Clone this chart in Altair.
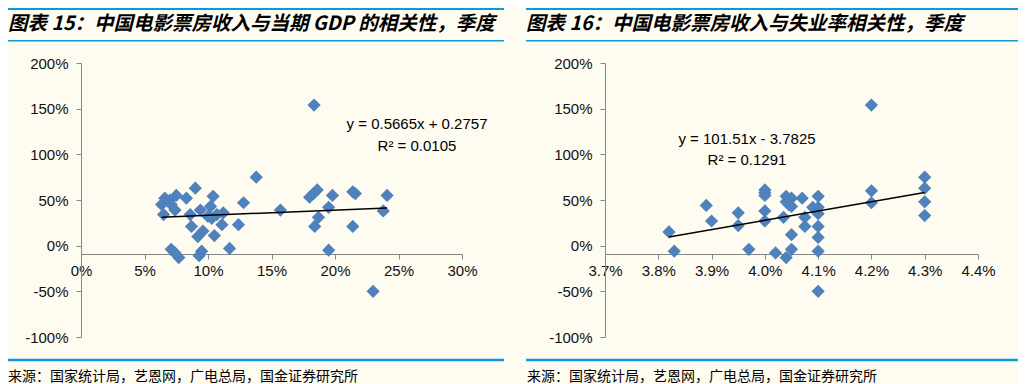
import altair as alt
import pandas as pd

# ---- data (percent) ----
gdp_growth = [9.0, 6.6, 7.5, 8.3, 6.35, 7.1, 7.4, 6.5, 8.6, 8.7, 9.4, 10.4, 10.2, 10.7,
              11.2, 11.1, 12.8, 12.4, 9.2, 9.6, 10.5, 11.7, 7.1, 7.7, 9.5, 9.3, 7.4, 7.0,
              10.0, 10.3, 18.35, 13.8, 15.7, 18.0, 18.6, 18.3, 19.8, 19.5, 21.4, 21.6,
              24.1, 23.8, 21.4, 18.7, 18.4, 19.5, 23.0]
box_gdp = [63, 52, 55, 52, 45, 45, 39, 34, 34, 21, 39, 54, 43, 34,
           36, 23, 47, 23, 10, 16, 11, -3, -4, -13, -6, -11, -8, 50,
           32, 30, 154, 75, 39, 53, 61, 57, 55, 42, 59, 57,
           55, 38, 21, 31, 21, -5, -50]

unemp_rate = [4.20, 4.30, 4.30, 4.30, 4.30, 4.20, 4.20, 3.82, 3.83, 3.89, 3.90, 3.95,
              3.95, 3.97, 4.00, 4.00, 4.00, 4.00, 4.00, 4.02, 4.04, 4.05, 4.05, 4.035,
              4.04, 4.05, 4.04, 4.05, 4.07, 4.075, 4.075, 4.09, 4.10, 4.10, 4.10, 4.10,
              4.10, 4.10, 4.10, 4.045]
box_unemp = [154, 75, 63, 48, 33, 60, 47, 15, -6, 44, 27, 36,
             22, -4, 61, 55, 58, 38, 27, -8, -13, -4, 12, 31,
             54, 52, 48, 43, 52, 31, 21, 42, 54, 42, 35, 21,
             9, -6, -50, 45]

gdp_ticks = [0, 0.05, 0.10, 0.15, 0.20, 0.25, 0.30]
unemp_ticks = [0.037, 0.038, 0.039, 0.040, 0.041, 0.042, 0.043, 0.044]
y_ticks = [-1.0, -0.5, 0.0, 0.5, 1.0, 1.5, 2.0]

eq_left = ["y = 0.5665x + 0.2757", "R² = 0.0105"]
eq_right = ["y = 101.51x - 3.7825", "R² = 0.1291"]
slope_l, icpt_l = 0.5665, 0.2757
slope_r, icpt_r = 101.51, -3.7825

title_left = "图表 15：中国电影票房收入与当期 GDP 的相关性，季度"
title_right = "图表 16：中国电影票房收入与失业率相关性，季度"
source = "来源：国家统计局，艺恩网，广电总局，国金证券研究所"

# ---- styles ----
BG = "#FEFBF1"
PT = "#4F81BD"
LINEBLUE = "#0A9ADB"
AX = "#868686"
FONT = "Liberation Sans"
CJK = "Noto Sans CJK SC"

dfL = pd.DataFrame({"x": [v / 100 for v in gdp_growth], "y": [v / 100 for v in box_gdp]})
dfR = pd.DataFrame({"x": [v / 100 for v in unemp_rate], "y": [v / 100 for v in box_unemp]})
xl = [dfL.x.min(), dfL.x.max()]
trL = pd.DataFrame({"x": xl, "y": [slope_l * v + icpt_l for v in xl]})
xr = [dfR.x.min(), dfR.x.max()]
trR = pd.DataFrame({"x": xr, "y": [slope_r * v + icpt_r for v in xr]})

pct_y = "(datum.value < 0 ? '-' : '') + format(abs(datum.value) * 100, '.0f') + '%'"


def y_enc(offset):
    return alt.Y("y:Q", scale=alt.Scale(domain=[-1, 2], range=[329, 55], nice=False, zero=False),
                 axis=alt.Axis(values=y_ticks, labelExpr=pct_y, orient="left", offset=offset,
                               grid=False, domainColor=AX, tickColor=AX, tickSize=5,
                               labelFont=FONT, labelFontSize=15, labelColor="#111111",
                               labelPadding=8, title=None, labelOverlap=False, labelFlush=False))


def x_enc(domain, rng, ticks, expr):
    return alt.X("x:Q", scale=alt.Scale(domain=domain, range=rng, nice=False, zero=False),
                 axis=alt.Axis(values=ticks, labelExpr=expr, orient="bottom", offset=-130,
                               grid=False, domainColor=AX, tickColor=AX, tickSize=5,
                               labelFont=FONT, labelFontSize=15, labelColor="#111111",
                               labelPadding=4, title=None, labelOverlap=False, labelFlush=False))


xL = x_enc([0, 0.30], [73, 454], gdp_ticks, "format(datum.value * 100, '.0f') + '%'")
yL = y_enc(-73)
xR = x_enc([0.037, 0.044], [597, 970], unemp_ticks, "format(datum.value * 100, '.1f') + '%'")
yR = y_enc(-597)

pts = dict(shape="diamond", filled=True, size=175, color=PT, opacity=1, strokeWidth=0)

left = alt.layer(
    alt.Chart(dfL).mark_point(**pts).encode(x=xL, y=yL),
    alt.Chart(trL).mark_line(color="black", strokeWidth=1.5).encode(x=xL, y=yL),
)
right = alt.layer(
    alt.Chart(dfR).mark_point(**pts).encode(x=xR, y=yR),
    alt.Chart(trR).mark_line(color="black", strokeWidth=1.5).encode(x=xR, y=yR),
)

one = pd.DataFrame({"a": [0]})


def rule(x1, x2, y, w):
    return alt.Chart(one).mark_rule(color=LINEBLUE, strokeWidth=w).encode(
        x=alt.value(x1), x2=alt.value(x2), y=alt.value(y))


def text(t, x, y, **kw):
    return alt.Chart(one).mark_text(text=t, **kw).encode(x=alt.value(x), y=alt.value(y))


title_kw = dict(font=CJK, fontSize=19.5, fontWeight="bold", fontStyle="italic",
                align="left", baseline="middle", color="#000000")
src_kw = dict(font=CJK, fontSize=14, align="left", baseline="middle", color="#000000")
eq_kw = dict(font=FONT, fontSize=15, align="center", baseline="middle", color="#000000")

deco = [
    rule(0, 496, 1.0, 2.0), rule(518, 1010, 1.0, 2.0),
    rule(0, 496, 32.7, 1.5), rule(518, 1010, 32.7, 1.5),
    rule(0, 496, 352, 2.5), rule(518, 1010, 352, 2.5),
    text(title_left, 0, 15.5, **title_kw), text(title_right, 518, 15.5, **title_kw),
    text(source, 0, 369, **src_kw), text(source, 519, 369, **src_kw),
    text(eq_left[0], 409, 116, **eq_kw), text(eq_left[1], 409, 138, **eq_kw),
    text(eq_right[0], 739, 131, **eq_kw), text(eq_right[1], 739, 152, **eq_kw),
]

chart = alt.layer(left, right, *deco).resolve_scale(
    x="independent", y="independent"
).properties(
    width=1010, height=376, background=BG, padding=0,
    autosize=alt.AutoSizeParams(type="none"),
).configure_view(strokeWidth=0, fill=BG)

chart.save("out.html", embed_options={"renderer": "svg", "actions": False})
